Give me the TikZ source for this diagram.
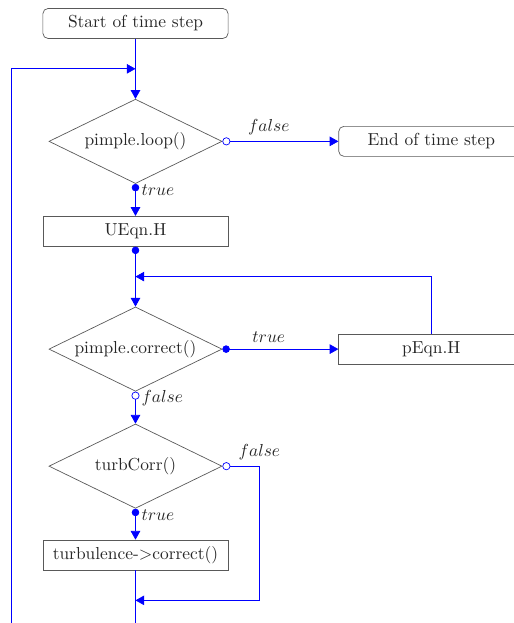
\documentclass[tikz,border=0pt]{standalone}
\usepackage{amsmath,amssymb}
\usepackage{tikz}
\usetikzlibrary{arrows.meta,positioning,calc,shapes.geometric}

\begin{document}
\begin{tikzpicture}[every node/.style={text=black!85},
  term/.style={draw=black!65,rounded corners=3pt,minimum width=106.5pt,minimum height=17.25pt,inner sep=0pt},
  proc/.style={draw=black!65,minimum width=106.5pt,minimum height=17.25pt,inner sep=0pt},
  test/.style={draw=black!65,diamond,aspect=2,inner sep=0pt,minimum width=99.5pt,minimum height=48.5pt},
  flow/.style={blue,-{Triangle[length=5pt,width=5.5pt]}},
  fromyes/.style={blue,{Circle[length=4.3pt]}-{Triangle[length=5pt,width=5.5pt]}},
  fromno/.style={blue,{Circle[open,length=4.6pt]}-{Triangle[length=5pt,width=5.5pt]}}]
\clip (-77.9pt,13.5pt) rectangle (217.6pt,-344.7pt);
\node[term] (start) at (0,0) {Start of time step};
\node[test,below=34.5pt of start] (loop) {pimple.loop()};
\node[term,right=66.7pt of loop] (end) {End of time step};
\node[proc,below=18.4pt of loop] (ueqn) {UEqn.H};
\node[test,below=34.5pt of ueqn] (corr) {pimple.correct()};
\node[proc,right=66.7pt of corr] (peqn) {pEqn.H};
\node[test,below=18.4pt of corr] (turbc) {turbCorr()};
\node[proc,below=17.8pt of turbc] (turb) {turbulence->correct()};
% junctions of the loops
\coordinate (join1) at ($(start.south)!0.5!(loop.north)$);
\coordinate (join2) at ($(ueqn.south)!0.5!(corr.north)$);
\coordinate[below=17.25pt of turb.south] (join3);
\coordinate[below=40pt of turb.south] (exit);
\coordinate[left=21.3pt of loop.west] (back);
\coordinate[right=21.3pt of turbc.east] (skip);
\draw[flow] (start) -- (loop);
\draw[fromno] (loop.east) -- node[above,pos=0.4] {$false$} (end);
\draw[fromyes] (loop.south) -- node[right,pos=0.2] {$true$} (ueqn);
\draw[fromyes] (ueqn.south) -- (corr.north);
\draw[fromyes] (corr.east) -- node[above,pos=0.4] {$true$} (peqn);
\draw[flow] (peqn.north) |- (join2);
\draw[fromno] (corr.south) -- node[right,pos=0.2] {$false$} (turbc);
\draw[fromyes] (turbc.south) -- node[right,pos=0.2] {$true$} (turb);
\draw[fromno] (turbc.east) -- (skip) node[above] {$false$} |- (join3);
\draw[blue] (turb.south) -- (exit);
\draw[flow] (back |- exit) |- (join1);
\end{tikzpicture}
\end{document}
